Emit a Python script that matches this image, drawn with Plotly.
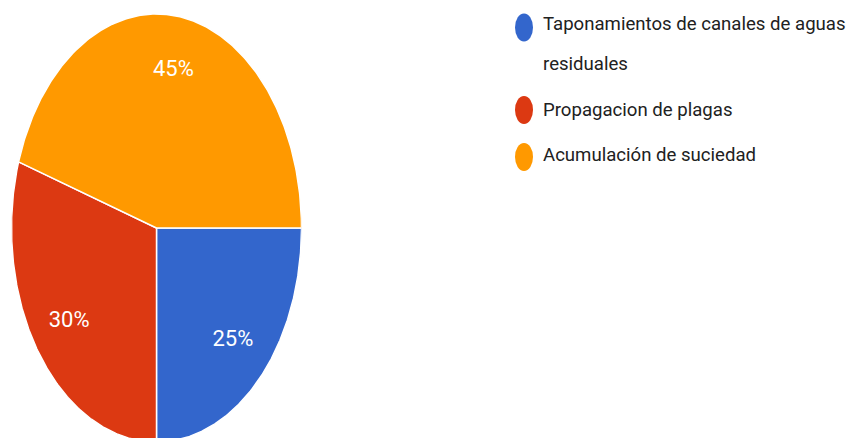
import numpy as np
import plotly.graph_objects as go

labels = ["Taponamientos de canales de aguas residuales", "Propagacion de plagas", "Acumulación de suciedad"]
legend_lines = [["Taponamientos de canales de aguas", "residuales"], ["Propagacion de plagas"], ["Acumulación de suciedad"]]
values = [25, 30, 45]
colors = ["#3366CC", "#DC3912", "#FF9900"]

OFF = 8  # page body margin
W, H = 861 - OFF, 438 - OFF
cx_px, cy_px = 156.5 - OFF, 228 - OFF
rx_px, ry_px = 145, 214

fig = go.Figure()

total = sum(values)
start = 90.0  # degrees clockwise from 12 o'clock (starts at 3 o'clock)
label_x, label_y, label_t = [], [], []
for v, c, name in zip(values, colors, labels):
    span = 360.0 * v / total
    th = np.radians(np.linspace(start, start + span, 240))
    xs = np.concatenate([[0], np.sin(th), [0]])
    ys = np.concatenate([[0], np.cos(th), [0]])
    fig.add_trace(go.Scatter(x=xs, y=ys, mode="lines", fill="toself", fillcolor=c,
                             line=dict(color="white", width=1.5), showlegend=False,
                             hoverinfo="text", text=name, name=name))
    mid = np.radians(start + span / 2)
    label_x.append(0.745 * np.sin(mid))
    label_y.append(0.745 * np.cos(mid))
    label_t.append(f"{round(100 * v / total)}%")
    start += span

fig.add_trace(go.Scatter(x=label_x, y=label_y, mode="text", text=label_t,
                         textfont=dict(color="white", size=22, family="Roboto"),
                         showlegend=False, hoverinfo="skip"))

# custom legend
leg_marker_x = 524 - OFF
leg_text_x = 541 - OFF
marker_y = [27.5 - OFF, 110 - OFF, 157 - OFF]
line_y = [[24 - OFF, 64 - OFF], [110 - OFF], [155 - OFF]]
for c, my, lines, ly in zip(colors, marker_y, legend_lines, line_y):
    fig.add_shape(type="circle", xref="paper", yref="paper",
                  x0=(leg_marker_x - 9) / W, x1=(leg_marker_x + 9) / W,
                  y0=1 - (my + 14) / H, y1=1 - (my - 14) / H,
                  fillcolor=c, line=dict(width=0))
    for t, yy in zip(lines, ly):
        fig.add_annotation(x=leg_text_x / W, y=1 - yy / H, xref="paper", yref="paper",
                           text=t, showarrow=False, xanchor="left", yanchor="middle",
                           font=dict(size=18.6, color="#212121", family="Roboto"))

top_px = cy_px - ry_px
fig.update_layout(
    width=W, height=H,
    margin=dict(l=0, r=0, t=0, b=0),
    paper_bgcolor="white", plot_bgcolor="white",
    xaxis=dict(domain=[(cx_px - rx_px) / W, (cx_px + rx_px) / W], range=[-1, 1],
               visible=False, fixedrange=True),
    yaxis=dict(domain=[0, 1 - top_px / H], range=[1 - (H - top_px) / ry_px, 1],
               visible=False, fixedrange=True),
    showlegend=False,
)

fig.write_html("out.html")
